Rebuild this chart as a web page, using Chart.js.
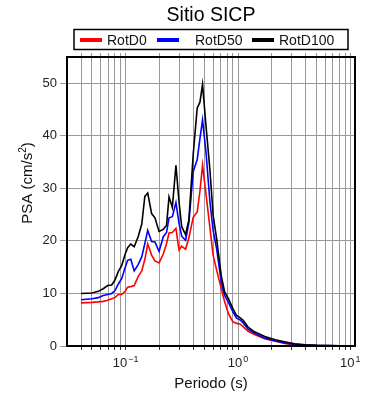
<!DOCTYPE html>
<html>
<head>
<meta charset="utf-8">
<script src="https://cdn.jsdelivr.net/npm/chart.js@4.4.0/dist/chart.umd.min.js"></script>
<style>
html, body { margin: 0; padding: 0; background: #fff; }
#wrap { width: 390px; height: 400px; }
</style>
</head>
<body>
<div id="wrap"><canvas id="psaChart" width="390" height="400"></canvas></div>
<script>
// periods (s) and spectral values
const periods = [0.04, 0.05, 0.057, 0.063, 0.069, 0.075, 0.08, 0.086, 0.092, 0.099,
    0.104, 0.111, 0.119, 0.129, 0.139, 0.148, 0.157, 0.17, 0.182, 0.198,
    0.216, 0.231, 0.243, 0.26, 0.28, 0.298, 0.315, 0.341, 0.365, 0.399,
    0.433, 0.458, 0.483, 0.518, 0.562, 0.6, 0.644, 0.71, 0.76, 0.82,
    0.9, 0.97, 1.04, 1.11, 1.23, 1.4, 1.73, 2.14, 2.6, 3.2,
    4.0, 5.0, 6.5, 8.0, 10.0];

const rotD0 = [8.2, 8.3, 8.4, 8.5, 8.7, 9.0, 9.2, 9.8, 9.8, 10.4,
    11.2, 11.3, 11.5, 13.2, 14.3, 16.5, 19.4, 17.3, 16.2, 15.8,
    17.5, 19.5, 21.5, 21.6, 22.4, 18.3, 19.0, 18.4, 20.6, 24.5,
    25.5, 29.5, 34.4, 29.0, 22.5, 17.3, 14.5, 10.9, 8.4, 6.2,
    4.6, 4.3, 4.2, 3.7, 2.8, 2.2, 1.4, 0.9, 0.5, 0.2,
    0.12, 0.08, 0.05, 0.03, 0.02];

const rotD50 = [8.8, 9.0, 9.2, 9.6, 9.8, 10.0, 10.5, 11.8, 12.8, 15.0,
    16.3, 16.5, 14.3, 15.5, 17.0, 19.5, 22.0, 19.9, 19.8, 18.0,
    20.8, 21.6, 24.4, 24.6, 27.3, 23.4, 20.9, 20.1, 23.5, 33.2,
    35.5, 39.5, 43.0, 37.0, 27.4, 22.0, 18.6, 12.1, 9.6, 8.3,
    6.5, 5.3, 5.0, 4.4, 3.2, 2.4, 1.5, 1.0, 0.6, 0.3,
    0.2, 0.12, 0.08, 0.05, 0.03];

const rotD100 = [10.0, 10.1, 10.4, 10.9, 11.5, 11.6, 12.5, 14.2, 15.3, 17.5,
    18.7, 19.4, 18.9, 20.8, 23.2, 28.5, 29.1, 25.2, 24.4, 21.8,
    22.2, 23.0, 28.4, 26.4, 34.4, 27.5, 22.7, 21.2, 24.0, 36.5,
    45.3, 46.4, 49.8, 42.0, 33.5, 24.9, 20.5, 13.3, 10.3, 9.0,
    7.1, 5.8, 5.4, 4.9, 3.6, 2.7, 1.8, 1.2, 0.8, 0.4,
    0.25, 0.15, 0.1, 0.05, 0.03];

const seriesNames = ['RotD0', 'RotD50', 'RotD100'];
const seriesColors = ['#ff0000', '#0000ff', '#000000'];

const xTickValues = [0.04, 0.05, 0.06, 0.07, 0.08, 0.09,
    0.1, 0.2, 0.3, 0.4, 0.5, 0.6, 0.7, 0.8, 0.9,
    1, 2, 3, 4, 5, 6, 7, 8, 9, 10];
const xLabelValues = [0.1, 1, 10];
const yTickValues = [0, 10, 20, 30, 40, 50];

const FONT = '"Liberation Sans", Arial, Helvetica, sans-serif';
const GRID = '#9a9a9a';

function toPoints(values) {
    return periods.map((t, i) => ({ x: t, y: values[i] }));
}

function setTicks(values) {
    return scale => { scale.ticks = values.map(v => ({ value: v })); };
}

const decorPlugin = {
    id: 'decor',
    afterDraw(chart) {
        const { ctx, chartArea: a } = chart;
        const xs = chart.scales.x;
        ctx.save();

        // frame
        ctx.strokeStyle = '#000';
        ctx.lineWidth = 2;
        ctx.strokeRect(a.left, a.top, a.right - a.left, a.bottom - a.top);

        // x tick labels as powers of ten
        ctx.fillStyle = '#222';
        ctx.textAlign = 'left';
        ctx.textBaseline = 'alphabetic';
        xLabelValues.forEach(v => {
            const px = xs.getPixelForValue(v);
            const exp = String(Math.round(Math.log10(v))).replace('-', '\u2212');
            ctx.font = `13px ${FONT}`;
            const w1 = ctx.measureText('10').width;
            ctx.font = `9px ${FONT}`;
            const w2 = ctx.measureText(exp).width;
            const start = px - (w1 + w2 + 1) / 2;
            ctx.font = `13px ${FONT}`;
            ctx.fillText('10', start, 367);
            ctx.font = `9px ${FONT}`;
            ctx.fillText(exp, start + w1 + 1, 362);
        });

        // axis titles
        ctx.fillStyle = '#111';
        ctx.font = `15px ${FONT}`;
        ctx.textAlign = 'center';
        ctx.fillText('Periodo (s)', 211, 388);

        ctx.save();
        ctx.translate(32, 183);
        ctx.rotate(-Math.PI / 2);
        const main = 'PSA (cm/s';
        ctx.font = `15px ${FONT}`;
        const wm = ctx.measureText(main).width;
        const wp = ctx.measureText(')').width;
        ctx.font = `10px ${FONT}`;
        const ws = ctx.measureText('2').width;
        let x0 = -(wm + ws + wp) / 2;
        ctx.textAlign = 'left';
        ctx.font = `15px ${FONT}`;
        ctx.fillText(main, x0, 0);
        ctx.font = `10px ${FONT}`;
        ctx.fillText('2', x0 + wm, -6);
        ctx.font = `15px ${FONT}`;
        ctx.fillText(')', x0 + wm + ws, 0);
        ctx.restore();

        // title
        ctx.font = `19.5px ${FONT}`;
        ctx.textAlign = 'center';
        ctx.fillStyle = '#000';
        ctx.fillText('Sitio SICP', 211, 20.5);

        // legend box
        ctx.lineWidth = 1.5;
        ctx.strokeStyle = '#000';
        ctx.strokeRect(74, 29.5, 274, 20);
        const lineStarts = [80, 157, 252];
        ctx.font = `14px ${FONT}`;
        ctx.textAlign = 'left';
        chart.data.datasets.forEach((ds, i) => {
            ctx.strokeStyle = ds.borderColor;
            ctx.lineWidth = 4;
            ctx.beginPath();
            ctx.moveTo(lineStarts[i], 40);
            ctx.lineTo(lineStarts[i] + 22, 40);
            ctx.stroke();
            ctx.fillStyle = '#111';
            ctx.fillText(ds.label, lineStarts[i] + (i === 1 ? 38 : 27), 44.5);
        });

        ctx.restore();
    }
};

new Chart(document.getElementById('psaChart'), {
    type: 'line',
    data: {
        datasets: [
            { label: seriesNames[0], data: toPoints(rotD0), borderColor: seriesColors[0], order: 3 },
            { label: seriesNames[1], data: toPoints(rotD50), borderColor: seriesColors[1], order: 2 },
            { label: seriesNames[2], data: toPoints(rotD100), borderColor: seriesColors[2], order: 1 },
        ],
    },
    options: {
        responsive: false,
        animation: false,
        devicePixelRatio: 1,
        layout: { padding: { top: 53, right: 35, left: 0, bottom: 0 } },
        elements: {
            line: { borderWidth: 1.6, tension: 0, fill: false },
            point: { radius: 0 },
        },
        plugins: {
            legend: { display: false },
            tooltip: { enabled: false },
        },
        scales: {
            x: {
                type: 'logarithmic',
                position: 'bottom',
                min: 0.03,
                max: 11,
                afterBuildTicks: setTicks(xTickValues),
                afterFit: scale => { scale.height = 54; },
                ticks: { display: false },
                grid: { color: GRID, lineWidth: 1, tickLength: 4, tickColor: '#333' },
                border: { display: false },
            },
            xTop: {
                type: 'logarithmic',
                position: 'top',
                min: 0.03,
                max: 11,
                afterBuildTicks: setTicks(xTickValues),
                afterFit: scale => { scale.height = 4; },
                ticks: { display: false },
                grid: { drawOnChartArea: false, color: GRID, tickLength: 4 },
                border: { display: false },
            },
            y: {
                type: 'linear',
                min: 0,
                max: 55,
                afterBuildTicks: setTicks(yTickValues),
                afterFit: scale => { scale.width = 67; },
                ticks: {
                    padding: 3,
                    color: '#222',
                    font: { family: FONT, size: 13 },
                },
                grid: { color: GRID, lineWidth: 1, tickLength: 7 },
                border: { display: false },
            },
        },
    },
    plugins: [decorPlugin],
});
</script>
</body>
</html>
